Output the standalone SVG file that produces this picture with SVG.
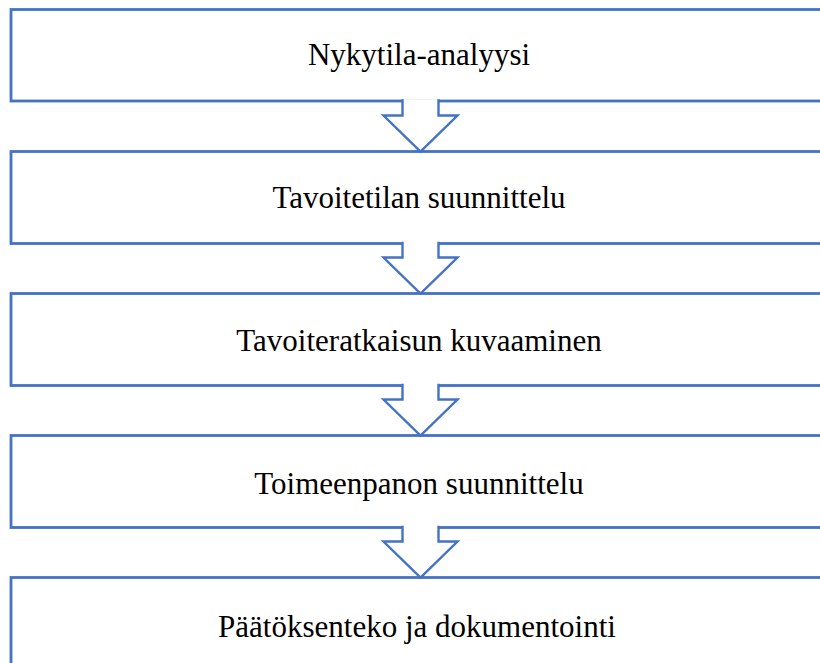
<svg xmlns="http://www.w3.org/2000/svg" width="820" height="663" viewBox="0 0 820 663">
<style>
.box{fill:#fff;stroke:#4472C4;stroke-width:2.8}
.arr{fill:#fff;stroke:#4472C4;stroke-width:2.4;stroke-linejoin:miter}
.lbl{font-family:"Liberation Serif","Times New Roman",serif;font-size:31px;fill:#000;text-anchor:middle}
</style>
<rect width="820" height="663" fill="#fff"/>
<g id="n1"><rect class="box" x="11" y="9.5" width="830" height="91.5"/><text class="lbl" x="419" y="64.5">Nykytila-analyysi</text></g>
<g id="n2"><rect class="box" x="11" y="151.5" width="830" height="92"/><text class="lbl" x="419" y="207.5">Tavoitetilan suunnittelu</text></g>
<g id="n3"><rect class="box" x="11" y="293.5" width="830" height="92"/><text class="lbl" x="419" y="350.5">Tavoiteratkaisun kuvaaminen</text></g>
<g id="n4"><rect class="box" x="11" y="435.5" width="830" height="92"/><text class="lbl" x="419" y="493.5">Toimeenpanon suunnittelu</text></g>
<g id="n5"><rect class="box" x="11" y="577.5" width="830" height="120"/><text class="lbl" x="417" y="636.5">Päätöksenteko ja dokumentointi</text></g>
<g id="connectors">
<path class="arr" d="M402.5,99.2 V115.5 H383.5 L420.5,151.5 L457.5,115.5 H438.5 V99.2"/>
<path class="arr" d="M402.5,241.7 V257.5 H383.5 L420.5,293.5 L457.5,257.5 H438.5 V241.7"/>
<path class="arr" d="M402.5,383.7 V399.5 H383.5 L420.5,435.5 L457.5,399.5 H438.5 V383.7"/>
<path class="arr" d="M402.5,525.7 V541.5 H383.5 L420.5,577.5 L457.5,541.5 H438.5 V525.7"/>
</g>
</svg>
